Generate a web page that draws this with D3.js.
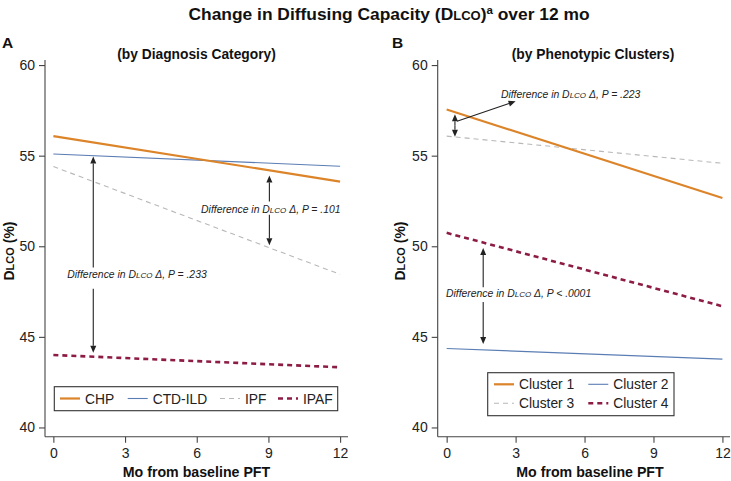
<!DOCTYPE html>
<html><head><meta charset="utf-8">
<script src="https://cdn.jsdelivr.net/npm/d3@7"></script>
<style>body{margin:0;background:#fff}svg{display:block}text{font-family:"Liberation Sans",Arial,Helvetica,sans-serif}</style>
</head><body><svg id="c" width="731" height="481"></svg>
<script>
// ---- data ----
const months = [0, 12];
const xTicks = [0, 3, 6, 9, 12];
const yTicks = [40, 45, 50, 55, 60];
const diagCategories = ["CHP", "CTD-ILD", "IPF", "IPAF"];
const diagStart = [56.08, 55.09, 54.40, 44.00];
const diagEnd   = [53.57, 54.42, 48.45, 43.32];
const clusterNames = ["Cluster 1", "Cluster 2", "Cluster 3", "Cluster 4"];
const clusterStart = [57.55, 44.36, 56.08, 50.74];
const clusterEnd   = [52.66, 43.77, 54.58, 46.69];
const pDiag = [".233", ".101"];
const pCluster = [".223", "< .0001"];

// ---- styles ----
const colors = ["#dc8429", "#5a7db4", "#b8b8b8", "#8d1c45"];
const widths = [2.2, 1.1, 1.1, 2.6];
const dashes = [null, null, "5,4", "5,4"];
const axisCol = "#444";

const svg = d3.select("#c");
svg.append("rect").attr("width", 731).attr("height", 481).attr("fill", "#fff");

// title
const t = svg.append("text").attr("x", 389).attr("y", 20).attr("text-anchor", "middle")
  .attr("font-size", 17.4).attr("font-weight", "bold").attr("fill", "#111");
t.append("tspan").text("Change in Diffusing Capacity (D");
t.append("tspan").attr("font-size", 13).text("LCO");
t.append("tspan").text(")");
t.append("tspan").attr("font-size", 11.5).attr("dy", -6).text("a");
t.append("tspan").attr("dy", 6).text(" over 12 mo");

function panel(cfg) {
  const x = d3.scaleLinear().domain([cfg.xMin, 12.33]).range([cfg.left, cfg.right]);
  const y = d3.scaleLinear().domain([39.49, 60.28]).range([436.7, 60]);
  const g = svg.append("g");

  g.append("text").attr("x", cfg.letterX).attr("y", 48).attr("font-size", 15.5)
    .attr("font-weight", "bold").attr("fill", "#111").text(cfg.letter);
  g.append("text").attr("x", cfg.subX).attr("y", 59).attr("text-anchor", "middle")
    .attr("font-size", 13.8).attr("font-weight", "bold").attr("fill", "#111").text(cfg.sub);

  const ya = g.append("g").attr("transform", `translate(${cfg.left},0)`)
    .call(d3.axisLeft(y).tickValues(yTicks).tickSize(6).tickPadding(4).tickFormat(d3.format("d")));
  const xa = g.append("g").attr("transform", `translate(0,436.7)`)
    .call(d3.axisBottom(x).tickValues(xTicks).tickSize(6).tickPadding(5).tickFormat(d3.format("d")));
  [ya, xa].forEach(a => {
    a.selectAll("path,line").attr("stroke", axisCol).attr("stroke-width", 1.1);
    a.selectAll("text").attr("font-size", 14).attr("fill", "#222")
      .attr("font-family", '"Liberation Sans",Arial,sans-serif');
  });
  ya.select("path").attr("d", `M0,${y.range()[0]}V${y.range()[1]}`);
  xa.select("path").attr("d", `M${cfg.left},0H${cfg.right}`);

  // axis titles
  const yl = g.append("text").attr("transform", `translate(${cfg.yLabX},251) rotate(-90)`)
    .attr("text-anchor", "middle").attr("font-size", 14).attr("font-weight", "bold").attr("fill", "#111");
  yl.append("tspan").text("D");
  yl.append("tspan").attr("font-size", 11).text("LCO");
  yl.append("tspan").text(" (%)");
  g.append("text").attr("x", cfg.xLabX).attr("y", 477).attr("text-anchor", "middle")
    .attr("font-size", 14.2).attr("font-weight", "bold").attr("fill", "#111").text("Mo from baseline PFT");

  // lines (draw order: gray, blue, maroon, orange)
  const line = d3.line().x(d => x(d[0])).y(d => y(d[1]));
  [2, 1, 3, 0].forEach(i => {
    g.append("path").datum(months.map((m, k) => [m, k === 0 ? cfg.start[i] : cfg.end[i]]))
      .attr("d", line).attr("fill", "none").attr("stroke", colors[i])
      .attr("stroke-width", widths[i]).attr("stroke-dasharray", dashes[i]);
  });

  // annotations
  function arrow(x1, y1, x2, y2) {
    const X1 = x(x1), Y1 = y(y1), X2 = x(x2), Y2 = y(y2);
    const ang = Math.atan2(Y2 - Y1, X2 - X1), L = 7, W = 3;
    const bx = X2 - L * Math.cos(ang), by = Y2 - L * Math.sin(ang);
    g.append("line").attr("x1", X1).attr("y1", Y1).attr("x2", bx).attr("y2", by)
      .attr("stroke", "#222").attr("stroke-width", 1.1);
    g.append("path").attr("d", `M${X2},${Y2}L${bx - W * Math.sin(ang)},${by + W * Math.cos(ang)}L${bx + W * Math.sin(ang)},${by - W * Math.cos(ang)}Z`)
      .attr("fill", "#222");
  }
  function label(xm, yv, anchor, p) {
    const tx = g.append("text").attr("x", x(xm)).attr("y", y(yv) + 4).attr("text-anchor", anchor)
      .attr("font-size", 10.4).attr("font-style", "italic").attr("fill", "#222");
    tx.append("tspan").text("Difference in D");
    tx.append("tspan").attr("font-size", 8).text("LCO");
    tx.append("tspan").text(" \u0394, P " + (p[0] === "<" ? p : "= " + p));
  }
  cfg.annot({ arrow, label, x, y });
}

panel({
  letter: "A", letterX: 2, sub: "(by Diagnosis Category)", subX: 196.5,
  left: 45, right: 348, xMin: -0.35, yLabX: 14, xLabX: 196.5,
  start: diagStart, end: diagEnd,
  annot: ({ arrow, label }) => {
    arrow(1.67, 48.83, 1.67, 54.95);
    arrow(1.67, 47.66, 1.67, 44.12);
    label(3.5, 48.45, "middle", pDiag[0]);
    arrow(9.04, 52.47, 9.04, 53.9);
    arrow(9.04, 51.74, 9.04, 50.05);
    label(9.1, 52.05, "middle", pDiag[1]);
  }
});
panel({
  letter: "B", letterX: 392, sub: "(by Phenotypic Clusters)", subX: 593,
  left: 437.7, right: 730, xMin: -0.39, yLabX: 405, xLabX: 590,
  start: clusterStart, end: clusterEnd,
  annot: ({ arrow, label }) => {
    arrow(0.36, 56.66, 0.36, 57.28);
    arrow(0.36, 56.66, 0.36, 56.05);
    arrow(0.45, 56.9, 3.0, 58.0);
    label(2.36, 58.43, "start", pCluster[0]);
    arrow(1.59, 47.74, 1.59, 49.91);
    arrow(1.59, 46.92, 1.59, 44.6);
    label(-0.03, 47.44, "start", pCluster[1]);
  }
});

// legends
function legend(box, items) {
  const g = svg.append("g");
  g.append("rect").attr("x", box.x).attr("y", box.y).attr("width", box.w).attr("height", box.h)
    .attr("fill", "#fff").attr("stroke", "#333").attr("stroke-width", 1.1);
  items.forEach(it => {
    g.append("line").attr("x1", it.lx).attr("x2", it.lx + 20).attr("y1", it.y).attr("y2", it.y)
      .attr("stroke", colors[it.i]).attr("stroke-width", widths[it.i]).attr("stroke-dasharray", dashes[it.i]);
    g.append("text").attr("x", it.lx + 25).attr("y", it.y + 5).attr("font-size", 13.8).attr("fill", "#222").text(it.name);
  });
}
const legA = [60, 127.7, 220, 278];
legend({ x: 54.3, y: 386.7, w: 283.4, h: 24 },
  diagCategories.map((n, i) => ({ name: n, i, lx: legA[i], y: 398.5 })));
const legBx = [494, 588.3], legBy = [384.3, 403.3];
legend({ x: 487.7, y: 372.7, w: 186.3, h: 43 },
  clusterNames.map((n, i) => ({ name: n, i, lx: legBx[i % 2], y: legBy[Math.floor(i / 2)] })));
</script></body></html>
